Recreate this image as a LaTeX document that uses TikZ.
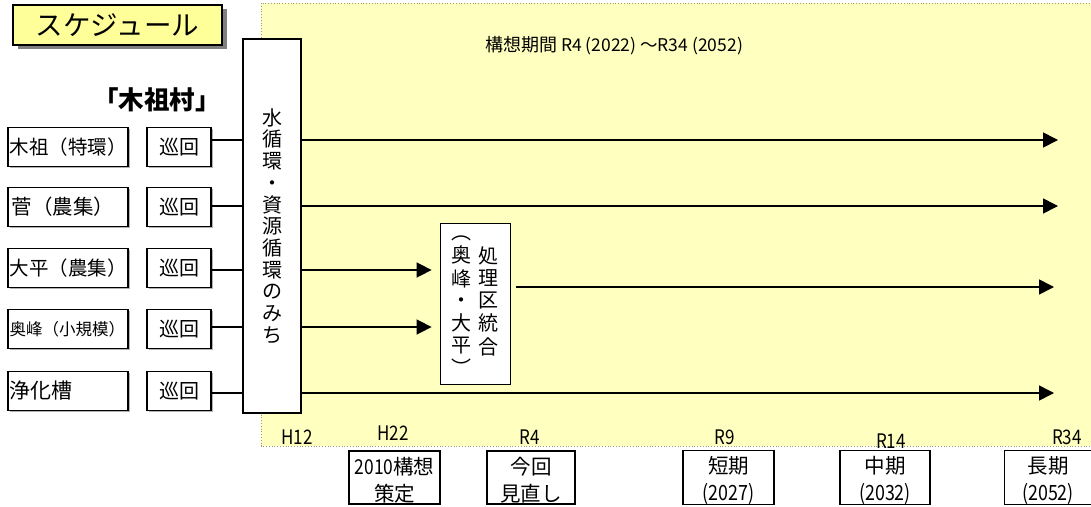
\documentclass[tikz,border=0pt]{standalone}
\usepackage{fontspec}
\setmainfont{Noto Sans CJK JP}
\newfontfamily\nar[FakeStretch=0.85]{Noto Sans CJK JP}
\usetikzlibrary{arrows.meta,shadows}
\definecolor{bgyellow}{HTML}{FFFFC0}
\definecolor{titleyellow}{HTML}{FFFF99}
\definecolor{dotcol}{HTML}{9A9A70}
\newcommand\fs[2]{\fontsize{#1}{#2}\selectfont}
\newcommand\vcol[1]{\begin{tabular}[c]{@{}c@{}}#1\end{tabular}}
\begin{document}
\begin{tikzpicture}[x=1pt,y=-1pt,
  lbox/.style={draw, line width=1.2pt, fill=white, minimum width=120pt, minimum height=39pt,
    text width=117pt, align=left, inner xsep=1.5pt, inner ysep=0pt,
    drop shadow={shadow xshift=1.5pt, shadow yshift=-1.5pt, fill=gray!60, opacity=1}},
  jbox/.style={draw, line width=1.2pt, fill=white, minimum width=64pt, minimum height=39pt,
    inner sep=0pt, font=\fs{20}{22},
    drop shadow={shadow xshift=1.5pt, shadow yshift=-1.5pt, fill=gray!60, opacity=1}},
  bbox/.style={draw, line width=1.6pt, fill=white, minimum height=53pt, inner sep=0pt,
    align=center, font=\fs{20.5}{27}},
  tl/.style={font=\nar\fs{20}{22}, inner sep=0pt},
  conn/.style={line width=1.6pt},
  arr/.style={line width=1.6pt, -{Triangle[length=15pt,width=15pt]}}
]
\useasboundingbox (0,0) rectangle (1091,506);
% background
\path[fill=bgyellow, draw=dotcol, dotted, line width=0.8pt] (261,3) rectangle (1096,446);

% title
\node[draw, line width=1.2pt, fill=titleyellow, minimum width=209pt, minimum height=40pt,
  inner sep=0pt, font=\fs{27.5}{30},
  drop shadow={shadow xshift=5pt, shadow yshift=-4pt, fill=gray, opacity=1}] (title) at (117.5,25) {スケジュール};
\node[font=\bfseries\fs{25.5}{28}, inner sep=0pt] (vil) at (157,100) {「木祖村」};

% left boxes
\node[lbox, font=\fs{19.5}{22}] (s1) at (68,147) {木祖（特環）};
\node[lbox, font=\fs{20.5}{22}] (s2) at (68,207) {\hspace{2pt}菅（農集）};
\node[lbox, font=\fs{19.5}{22}] (s3) at (68,268) {大平（農集）};
\node[lbox, font=\fs{16.5}{18}] (s4) at (68,329) {奥峰（小規模）};
\node[lbox, font=\fs{21}{24}] (s5) at (68,391) {浄化槽};

\node[jbox] (j1) at (179,147) {巡回};
\node[jbox] (j2) at (179,207) {巡回};
\node[jbox] (j3) at (179,268) {巡回};
\node[jbox] (j4) at (179,329) {巡回};
\node[jbox] (j5) at (179,391) {巡回};

% water box
\node[draw, line width=1.6pt, fill=white, minimum width=58pt, minimum height=374pt,
  inner sep=0pt, align=center, font=\fs{20}{21.7}] (water) at (272,226)
  {水\\循\\環\\・\\資\\源\\循\\環\\の\\み\\ち};

% processing box
\node[draw, line width=0.8pt, fill=white, minimum width=70pt, minimum height=161pt,
  inner sep=0pt, font=\fs{20}{21.5}] (proc) at (475,303.5)
  {\vcol{︵\\奥\\峰\\・\\大\\平\\︶}\hspace{7pt}\vcol{処\\理\\区\\統\\合}};

% period label
\node[inner sep=0pt, font=\fs{18}{20}] (period) at (614,46) {構想期間 {\fs{17.5}{20}R4 (2022) ～R34 (2052)}};

% coordinates
\coordinate (r1) at (0,140);
\coordinate (r2) at (0,206);
\coordinate (r3) at (0,270);
\coordinate (r4) at (0,327);
\coordinate (r5) at (0,393);
\coordinate (e1) at (1058,140);
\coordinate (e2) at (1058,206);
\coordinate (e3) at (1054,287);
\coordinate (e4) at (1054,393);

% connectors
\draw[conn] (j1.east |- r1) -- (water.west |- r1);
\draw[conn] (j2.east |- r2) -- (water.west |- r2);
\draw[conn] (j3.east |- r3) -- (water.west |- r3);
\draw[conn] (j4.east |- r4) -- (water.west |- r4);
\draw[conn] (j5.east |- r5) -- (water.west |- r5);

\draw[arr] (water.east |- r1) -- (e1);
\draw[arr] (water.east |- r2) -- (e2);
\draw[arr, shorten >=8pt] (water.east |- r3) -- (proc.west |- r3);
\draw[arr, shorten >=8pt] (water.east |- r4) -- (proc.west |- r4);
\draw[arr, shorten <=6pt] (proc.east |- e3) -- (e3);
\draw[arr] (water.east |- r5) -- (e4);

% timeline labels
\node[tl] (tH12) at (297,437) {H12};
\node[tl] (tH22) at (393,433) {H22};
\node[tl] (tR4) at (530,437) {R4};
\node[tl] (tR9) at (725,437) {R9};
\node[tl] (tR14) at (891,441) {R14};
\node[tl] (tR34) at (1067,437) {R34};

% bottom boxes
\node[bbox, minimum width=91pt] (b1) at (394.5,477.5) {\rule{0pt}{23pt}{\nar 2010}構想\\策定};
\node[bbox, minimum width=88pt] (b2) at (531,477.5) {\rule{0pt}{23pt}今回\\見直し};
\node[bbox, minimum width=91pt] (b3) at (728.5,477.5) {\rule{0pt}{23pt}短期\\{\nar\fs{21}{27}(2027)}};
\node[bbox, minimum width=90pt] (b4) at (885,477.5) {\rule{0pt}{23pt}中期\\{\nar\fs{21}{27}(2032)}};
\node[bbox, minimum width=87pt] (b5) at (1048,477.5) {\rule{0pt}{23pt}長期\\{\nar\fs{21}{27}(2052)}};
\end{tikzpicture}
\end{document}
